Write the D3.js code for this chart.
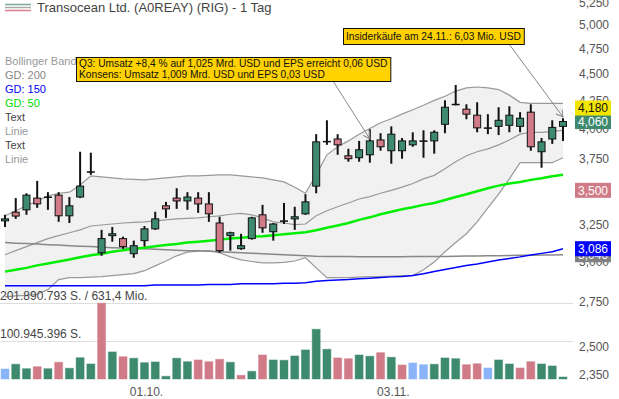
<!DOCTYPE html>
<html>
<head>
<meta charset="utf-8">
<script src="https://cdn.jsdelivr.net/npm/d3@7"></script>
<style>
  body { margin: 0; background: #fff; }
  svg { display: block; font-family: Arial, "Liberation Sans", sans-serif; }
</style>
</head>
<body>
<div id="chart"></div>
<script>
const dates = [
  "12.09.", "15.09.", "16.09.", "17.09.", "18.09.", "19.09.", "22.09.", "23.09.", "24.09.", "25.09.", "26.09.", "29.09.", "30.09.",
  "01.10.", "02.10.", "03.10.", "06.10.", "07.10.", "08.10.", "09.10.", "10.10.", "13.10.", "14.10.", "15.10.", "16.10.", "17.10.",
  "20.10.", "21.10.", "22.10.", "23.10.", "24.10.", "27.10.", "28.10.", "29.10.", "30.10.", "31.10.",
  "03.11.", "04.11.", "05.11.", "06.11.", "07.11.", "10.11.", "11.11.", "12.11.", "13.11.", "14.11.", "17.11.", "18.11.", "19.11.",
  "20.11.", "21.11.", "24.11.", "25.11."
];

const open = [3.277, 3.339, 3.356, 3.442, 3.450, 3.464, 3.313, 3.450, 3.643, 3.059, 3.174, 3.154, 3.053, 3.140, 3.221, 3.385, 3.442, 3.421,
  3.442, 3.399, 3.262, 3.174, 3.086, 3.154, 3.320, 3.201, 3.277, 3.291, 3.327, 3.532, 3.890, 3.910, 3.771, 3.755, 3.779, 3.902,
  3.812, 3.812, 3.861, 3.894, 3.894, 4.036, 4.214, 4.170, 4.116, 4.005, 4.018, 4.027, 4.018, 4.143, 3.804, 3.910, 4.018];
const high = [3.320, 3.442, 3.478, 3.572, 3.486, 3.486, 3.450, 3.804, 3.796, 3.214, 3.234, 3.167, 3.140, 3.241, 3.342, 3.414, 3.516, 3.486,
  3.486, 3.486, 3.306, 3.201, 3.187, 3.306, 3.392, 3.262, 3.406, 3.378, 3.471, 3.951, 4.071, 3.951, 3.828, 3.894, 3.992, 3.959,
  4.018, 3.918, 3.967, 3.984, 3.984, 4.250, 4.393, 4.214, 4.232, 4.125, 4.187, 4.196, 4.143, 4.214, 3.918, 4.071, 4.089];
const low = [3.234, 3.291, 3.320, 3.370, 3.356, 3.270, 3.262, 3.442, 3.619, 3.039, 3.133, 3.086, 3.026, 3.100, 3.214, 3.298, 3.363, 3.356,
  3.334, 3.270, 3.059, 3.073, 3.079, 3.147, 3.194, 3.140, 3.255, 3.214, 3.320, 3.478, 3.861, 3.779, 3.723, 3.723, 3.715, 3.812,
  3.707, 3.747, 3.845, 3.755, 3.788, 3.959, 4.205, 4.080, 3.967, 3.951, 3.943, 3.967, 3.967, 3.812, 3.675, 3.869, 3.894];
const close = [3.291, 3.311, 3.464, 3.399, 3.450, 3.313, 3.385, 3.532, 3.643, 3.154, 3.187, 3.100, 3.106, 3.221, 3.291, 3.363, 3.421, 3.450,
  3.399, 3.327, 3.073, 3.194, 3.106, 3.298, 3.228, 3.255, 3.277, 3.306, 3.414, 3.886, 3.890, 3.861, 3.747, 3.820, 3.894, 3.845,
  3.951, 3.894, 3.894, 3.894, 3.967, 4.187, 4.214, 4.125, 4.005, 4.005, 4.071, 4.116, 4.089, 3.845, 3.886, 4.009, 4.060];

// volume in millions of shares
const volume = [26.5, 39.0, 27.3, 32.6, 27.3, 44.3, 28.4, 56.4, 39.8, 200.6, 71.6, 59.1, 54.9, 43.2, 45.1, 7.2, 54.9, 45.8,
  50.4, 45.8, 52.2, 44.3, 9.8, 20.4, 63.6, 50.4, 49.6, 61.0, 76.9, 131.7, 78.7, 55.7, 53.8, 63.6, 60.2, 69.7,
  57.5, 37.1, 42.4, 37.9, 39.0, 55.7, 53.8, 37.9, 40.5, 29.2, 50.4, 39.8, 29.2, 45.8, 39.8, 34.5, 5.3];

const bbUpper = [3.313, 3.349, 3.385, 3.421, 3.457, 3.478, 3.486, 3.540, 3.611, 3.603, 3.596, 3.588, 3.584, 3.580, 3.588, 3.596, 3.603, 3.611,
  3.611, 3.615, 3.619, 3.619, 3.611, 3.603, 3.596, 3.580, 3.564, 3.524, 3.478, 3.619, 3.779, 3.845, 3.894, 3.951, 4.000, 4.049,
  4.085, 4.125, 4.165, 4.205, 4.250, 4.288, 4.336, 4.365, 4.374, 4.365, 4.350, 4.298, 4.232, 4.223, 4.223, 4.223, 4.223];
const bbMiddle = [3.046, 3.073, 3.100, 3.127, 3.154, 3.174, 3.194, 3.214, 3.241, 3.248, 3.255, 3.262, 3.266, 3.270, 3.277, 3.284, 3.291, 3.295,
  3.298, 3.306, 3.313, 3.324, 3.331, 3.320, 3.298, 3.270, 3.262, 3.251, 3.255, 3.313, 3.349, 3.378, 3.406, 3.435, 3.453, 3.478,
  3.500, 3.524, 3.552, 3.588, 3.615, 3.667, 3.723, 3.771, 3.804, 3.828, 3.861, 3.902, 3.951, 3.967, 3.967, 3.975, 3.984];
const bbLower = [2.781, 2.787, 2.790, 2.797, 2.825, 2.887, 2.899, 2.899, 2.902, 2.905, 2.912, 2.918, 2.924, 2.943, 2.974, 3.005, 3.039, 3.063,
  3.069, 3.073, 3.059, 3.032, 3.012, 3.002, 2.993, 2.993, 2.996, 3.005, 3.026, 2.961, 2.899, 2.899, 2.899, 2.902, 2.905, 2.905,
  2.909, 2.912, 2.912, 2.949, 2.999, 3.066, 3.127, 3.187, 3.270, 3.370, 3.471, 3.588, 3.715, 3.715, 3.715, 3.715, 3.755];

const gd200 = [3.127, 3.123, 3.120, 3.117, 3.113, 3.110, 3.106, 3.103, 3.100, 3.096, 3.093, 3.090, 3.090, 3.086, 3.083, 3.079, 3.076, 3.073,
  3.073, 3.069, 3.066, 3.063, 3.059, 3.056, 3.053, 3.049, 3.046, 3.042, 3.039, 3.036, 3.035, 3.034, 3.034, 3.033, 3.033, 3.033,
  3.033, 3.033, 3.034, 3.034, 3.035, 3.035, 3.036, 3.037, 3.038, 3.039, 3.040, 3.041, 3.042, 3.043, 3.044, 3.045, 3.046];
const gd150 = [2.849, 2.849, 2.849, 2.849, 2.849, 2.849, 2.849, 2.849, 2.849, 2.849, 2.849, 2.849, 2.849, 2.849, 2.853, 2.853, 2.853, 2.853,
  2.853, 2.856, 2.856, 2.856, 2.862, 2.862, 2.862, 2.862, 2.865, 2.865, 2.868, 2.876, 2.881, 2.884, 2.887, 2.892, 2.896, 2.900,
  2.904, 2.907, 2.912, 2.924, 2.938, 2.951, 2.964, 2.976, 2.986, 2.998, 3.011, 3.022, 3.032, 3.044, 3.055, 3.066, 3.086];
const gd50 = [2.937, 2.949, 2.961, 2.977, 2.989, 3.002, 3.015, 3.029, 3.042, 3.053, 3.066, 3.076, 3.086, 3.093, 3.103, 3.110, 3.117, 3.127,
  3.133, 3.140, 3.147, 3.154, 3.160, 3.167, 3.170, 3.177, 3.184, 3.191, 3.197, 3.211, 3.228, 3.245, 3.262, 3.284, 3.302, 3.324,
  3.342, 3.360, 3.374, 3.392, 3.406, 3.428, 3.450, 3.471, 3.493, 3.516, 3.536, 3.552, 3.564, 3.580, 3.592, 3.608, 3.619];

const priceTicks = [5.25, 5.0, 4.75, 4.5, 4.25, 4.0, 3.75, 3.5, 3.25, 3.0, 2.75, 2.5, 2.35];
const dateTicks = ["01.10.", "03.11."];
const volumeTicks = [100.945396, 201.890793];
const turnover = 631.4;
const extraMarks = [4.18, 3.5];

const legendItems = ["Bollinger Band:", "GD: 200", "GD: 150", "GD: 50", "Text", "Linie", "Text", "Linie"];
const annotations = [
  { lines: ["Q3: Umsatz +8,4 % auf 1,025 Mrd. USD und EPS erreicht 0,06 USD", "Konsens: Umsatz 1,009 Mrd. USD und EPS 0,03 USD"], date: "30.10.", price: 3.91 },
  { lines: ["Insiderkäufe am 24.11.: 6,03 Mio. USD"], date: "25.11.", price: 4.10 }
];

const W = 619, H = 399;
const GREEN = "#3d8a6e", RED = "#d07b87", BLUE = "#8ab4f8";

const de = d3.formatLocale({ decimal: ",", thousands: ".", grouping: [3], currency: ["", ""] });
const priceFmt = de.format(".3f");
const intFmt = de.format(",d");
const oneFmt = de.format(".1f");

const svg = d3.select("#chart").append("svg")
  .attr("width", W)
  .attr("height", H);

const idx = d3.range(dates.length);
const x = d3.scalePoint().domain(dates).range([5, 563]);
const y = d3.scaleLog().domain([2.35, 5]).range([375, 25]);
const yVol = d3.scaleLinear().domain([0, volumeTicks[1]]).range([379, 302.7]);
const xi = i => x(dates[i]);

// bollinger band
svg.append("path")
  .datum(idx)
  .attr("d", d3.area().x(xi).y0(i => y(bbLower[i])).y1(i => y(bbUpper[i])))
  .attr("fill", "#f1f1f1");

const line = arr => d3.line().x(xi).y(i => y(arr[i]))(idx);
[bbUpper, bbMiddle, bbLower].forEach(arr => {
  svg.append("path").attr("d", line(arr))
    .attr("fill", "none").attr("stroke", "#999").attr("stroke-width", 1.2);
});

// volume grid
svg.append("g").selectAll("line")
  .data(volumeTicks)
  .enter().append("line")
  .attr("x1", 0).attr("x2", 573)
  .attr("y1", d => Math.round(yVol(d)) + 0.5).attr("y2", d => Math.round(yVol(d)) + 0.5)
  .attr("stroke", "#ddd");

svg.append("g").selectAll("text")
  .data(volumeTicks)
  .enter().append("text")
  .attr("x", 0)
  .attr("y", d => yVol(d) - 3)
  .attr("font-size", 12)
  .attr("fill", "#444")
  .text((d, i) => intFmt(Math.round(d * 1e6)) + " S." + (i === 1 ? " / " + oneFmt(turnover) + " Mio." : ""));

// moving averages
[[gd200, "#888", 1.5], [gd150, "#0000ff", 1.5], [gd50, "#00ee00", 2.5]].forEach(([arr, col, w]) => {
  svg.append("path").attr("d", line(arr))
    .attr("fill", "none").attr("stroke", col).attr("stroke-width", w);
});

// volume bars
const volColor = i => {
  if (i === 0 || close[i] === close[i - 1]) return BLUE;
  return close[i] > close[i - 1] ? GREEN : RED;
};
svg.append("g").selectAll("rect")
  .data(idx)
  .enter().append("rect")
  .attr("x", i => xi(i) - 4)
  .attr("width", 8)
  .attr("y", i => yVol(volume[i]))
  .attr("height", i => yVol(0) - yVol(volume[i]))
  .attr("fill", volColor)
  .attr("stroke", volColor)
  .attr("stroke-opacity", 0.45);

// candles
const candles = svg.append("g").selectAll("g")
  .data(idx)
  .enter().append("g");

candles.append("line")
  .attr("x1", xi).attr("x2", xi)
  .attr("y1", i => y(high[i])).attr("y2", i => y(low[i]))
  .attr("stroke", "#111").attr("stroke-width", 2);

candles.append("rect")
  .attr("x", i => xi(i) - 3.5)
  .attr("width", 7)
  .attr("y", i => y(Math.max(open[i], close[i])))
  .attr("height", i => Math.max(0.5, y(Math.min(open[i], close[i])) - y(Math.max(open[i], close[i]))))
  .attr("fill", i => close[i] >= open[i] ? GREEN : RED)
  .attr("stroke", "#111")
  .attr("stroke-width", 1);

// title
const legendIcon = svg.append("g");
[["#7aa99a", 4.5], ["#aaa", 7.5], ["#d9818b", 10.5]].forEach(([c, yy]) => {
  legendIcon.append("line").attr("x1", 5).attr("x2", 31).attr("y1", yy).attr("y2", yy)
    .attr("stroke", c).attr("stroke-width", 1.5);
});
svg.append("text")
  .attr("x", 37).attr("y", 12)
  .attr("font-size", 13)
  .attr("fill", "#444")
  .text("Transocean Ltd. (A0REAY) (RIG) - 1 Tag");

// left legend
const legendColors = ["#999", "#888", "#0000ff", "#00dd00", "#444", "#999", "#444", "#999"];
svg.append("g").selectAll("text")
  .data(legendItems)
  .enter().append("text")
  .attr("x", 5)
  .attr("y", (d, i) => 65 + i * 14)
  .attr("font-size", 11)
  .attr("fill", (d, i) => legendColors[i])
  .text(d => d);

// annotations
svg.append("defs").append("marker")
  .attr("id", "arrow")
  .attr("viewBox", "0 0 8 8")
  .attr("refX", 7).attr("refY", 4)
  .attr("markerWidth", 8).attr("markerHeight", 8)
  .attr("orient", "auto")
  .append("path")
  .attr("d", "M0,0 L7,4 L0,8")
  .attr("fill", "none")
  .attr("stroke", "#888");

const boxes = [
  { x: 76, y: 57, sx: 333 },
  { x: 343, y: 28, sx: 509 }
];
annotations.forEach((a, k) => {
  const b = boxes[k];
  const g = svg.append("g");
  const n = a.lines.length;
  const lineH = 11;
  const h = n === 1 ? 16 : n * lineH + 2;
  g.append("line")
    .attr("x1", b.sx).attr("y1", b.y + h)
    .attr("x2", x(a.date)).attr("y2", y(a.price))
    .attr("stroke", "#888").attr("stroke-width", 1)
    .attr("marker-end", "url(#arrow)");
  const rect = g.append("rect")
    .attr("x", b.x + 0.5).attr("y", b.y + 0.5)
    .attr("height", h)
    .attr("fill", "#ffd200")
    .attr("stroke", "#111");
  const t = g.append("text")
    .attr("font-size", 10.2)
    .attr("fill", "#111");
  a.lines.forEach((s, j) => {
    t.append("tspan")
      .attr("x", b.x + 3)
      .attr("y", b.y + (h - n * lineH) / 2 + 9 + j * lineH)
      .text(s);
  });
  rect.attr("width", t.node().getBBox().width + 6);
});

// price axis labels
svg.append("g").selectAll("text")
  .data(priceTicks)
  .enter().append("text")
  .attr("x", 579)
  .attr("y", d => y(d))
  .attr("dy", "0.35em")
  .attr("font-size", 12)
  .attr("fill", "#555")
  .text(d => priceFmt(d));

// date labels
svg.append("g").selectAll("text")
  .data(dateTicks)
  .enter().append("text")
  .attr("x", d => x(d) + 2)
  .attr("y", 396)
  .attr("text-anchor", "middle")
  .attr("font-size", 12)
  .attr("fill", "#555")
  .text(d => d);

// value tags on the price axis
const last = close.length - 1;
const tags = [
  { v: gd200[last], bg: "#808080", fg: "#fff" },
  { v: gd150[last], bg: "#0000ff", fg: "#fff" },
  { v: extraMarks[1], bg: "#d07b87", fg: "#fff" },
  { v: close[last], bg: GREEN, fg: "#fff" },
  { v: extraMarks[0], bg: "#f2e600", fg: "#111" }
];
const tagG = svg.append("g").selectAll("g")
  .data(tags)
  .enter().append("g");
tagG.append("rect")
  .attr("x", 575).attr("width", 36)
  .attr("y", d => y(d.v) - 7.5).attr("height", 15)
  .attr("fill", d => d.bg);
tagG.append("text")
  .attr("x", 593).attr("y", d => y(d.v))
  .attr("dy", "0.35em")
  .attr("text-anchor", "middle")
  .attr("font-size", 12)
  .attr("fill", d => d.fg)
  .text(d => priceFmt(d.v));
</script>
</body>
</html>
